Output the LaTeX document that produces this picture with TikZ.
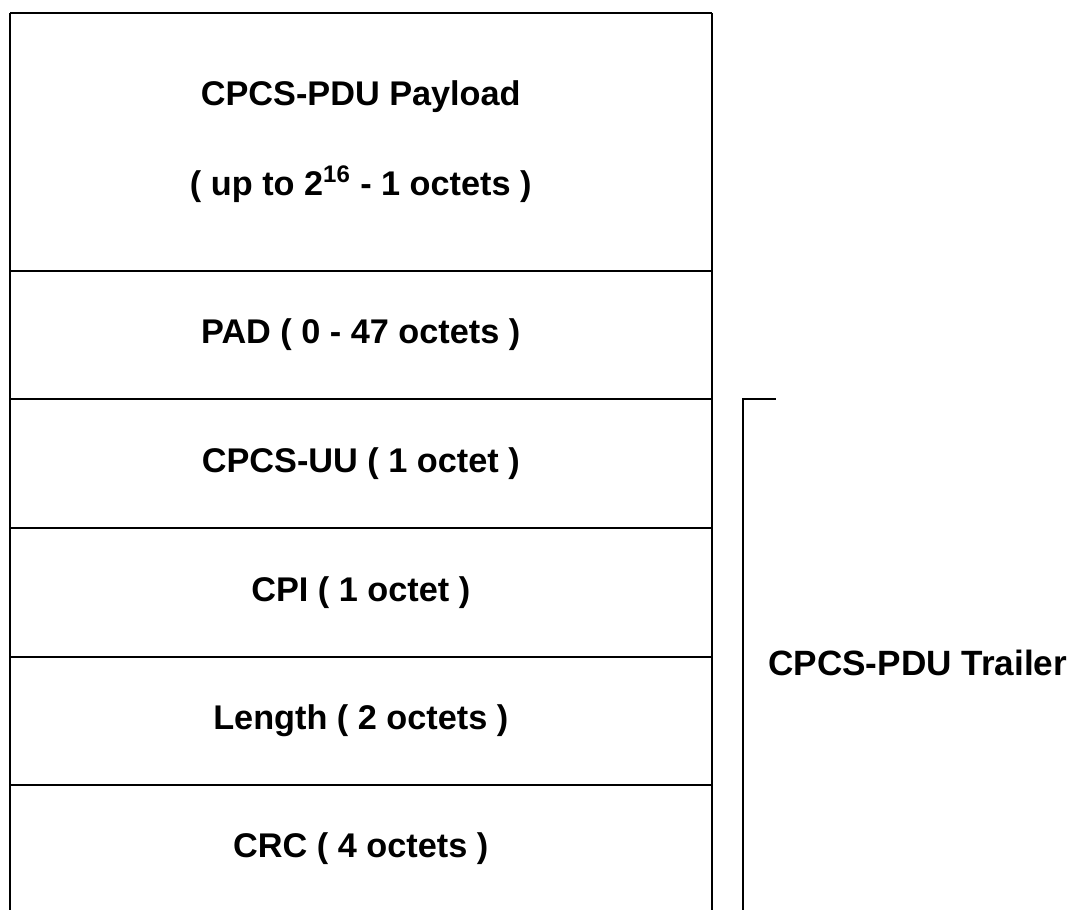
\documentclass[tikz,border=0pt]{standalone}
\usepackage{fontspec}
\setmainfont{Liberation Sans}
\usetikzlibrary{positioning}

\begin{document}
\begin{tikzpicture}[x=0.02cm, y=-0.02cm,
  field/.style={minimum width=14.02cm, minimum height=2.56cm, inner sep=0pt, font=\fontsize{19.5}{51}\selectfont\bfseries, align=center},
  rule/.style={line width=1.1pt},
  label/.style={font=\fontsize{20}{24}\selectfont\bfseries, inner sep=0pt}
]
\useasboundingbox (0,0) rectangle (1084,909);

% fields of the CPCS-PDU
\node[field, minimum height=5.14cm, anchor=north west] (payload) at (10,13) {CPCS-PDU Payload\\( up to 2\textsuperscript{16} - 1 octets )};
\node[field, below=0pt of payload] (pad) {PAD ( 0 - 47 octets )};
\node[field, below=0pt of pad] (uu) {CPCS-UU ( 1 octet )};
\node[field, below=0pt of uu] (cpi) {CPI ( 1 octet )};
\node[field, below=0pt of cpi] (len) {Length ( 2 octets )};
\node[field, minimum height=2.52cm, below=0pt of len] (crc) {CRC ( 4 octets )};

\draw[rule] (payload.north west) -- (payload.north east);
\draw[rule] (payload.north west) -- (crc.south west);
\draw[rule] (payload.north east) -- (crc.south east);
\foreach \f in {pad,uu,cpi,len,crc}
  \draw[rule] (\f.north west) -- (\f.north east);

% trailer bracket
\coordinate[right=0.62cm of uu.north east] (brtop);
\coordinate[right=1.28cm of uu.north east] (brtick);
\coordinate (brbot) at (brtop |- crc.south);
\draw[rule] (brtick) -- (brtop) -- (brbot);
\node[label, anchor=west] (trailer) at (768,663) {CPCS-PDU Trailer};

\end{tikzpicture}
\end{document}
